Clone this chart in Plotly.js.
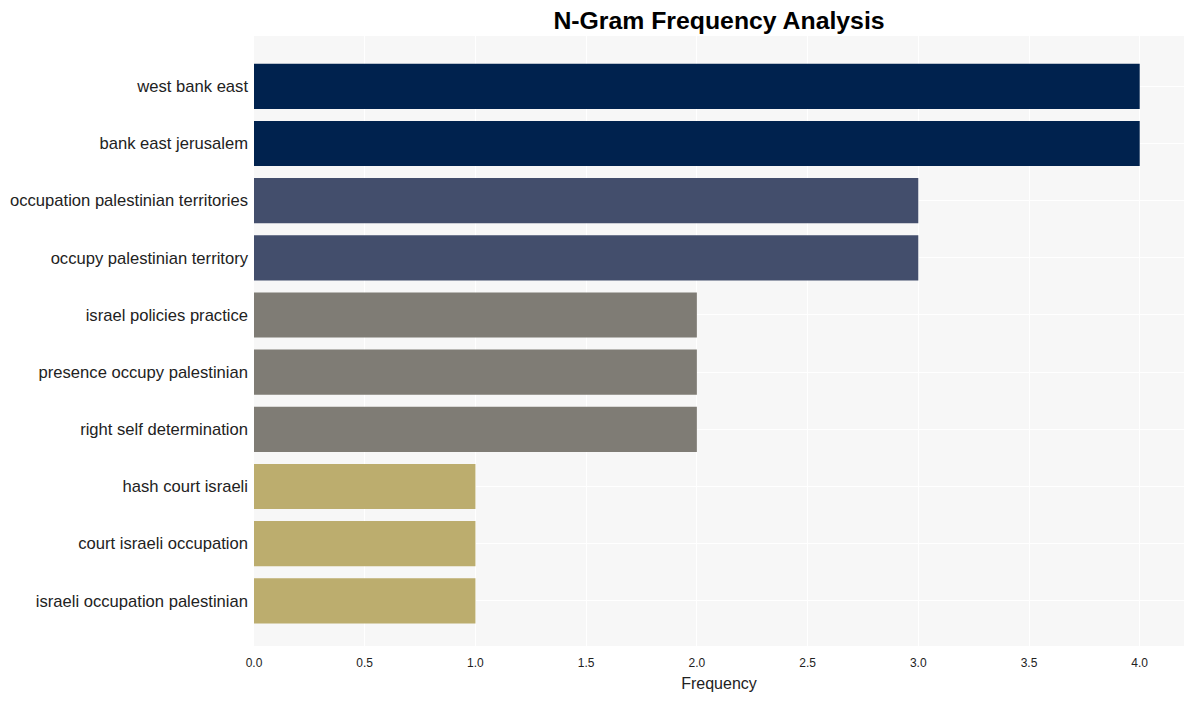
<!DOCTYPE html>
<html>
<head>
<meta charset="utf-8">
<script src="https://cdn.plot.ly/plotly-3.0.1.min.js"></script>
<style>html,body{margin:0;padding:0;background:#fff;}#chart{width:1193px;height:701px;}</style>
</head>
<body>
<div id="chart"></div>
<script>
const categories = [
  "west bank east",
  "bank east jerusalem",
  "occupation palestinian territories",
  "occupy palestinian territory",
  "israel policies practice",
  "presence occupy palestinian",
  "right self determination",
  "hash court israeli",
  "court israeli occupation",
  "israeli occupation palestinian"
];
const frequencies = [4, 4, 3, 3, 2, 2, 2, 1, 1, 1];
const barColors = ["#00224e", "#00224e", "#434e6c", "#434e6c", "#7f7c75", "#7f7c75", "#7f7c75", "#bcad6e", "#bcad6e", "#bcad6e"];
const xTicks = [0, 0.5, 1, 1.5, 2, 2.5, 3, 3.5, 4];
const xTickText = ["0.0", "0.5", "1.0", "1.5", "2.0", "2.5", "3.0", "3.5", "4.0"];

const trace = {
  type: "bar",
  orientation: "h",
  x: frequencies,
  y: categories,
  marker: {color: barColors},
  hoverinfo: "x+y"
};

const layout = {
  width: 1193,
  height: 701,
  margin: {l: 254, r: 9, t: 36, b: 55},
  paper_bgcolor: "#ffffff",
  plot_bgcolor: "#f7f7f7",
  bargap: 0.21,
  font: {family: "Liberation Sans, Arial, sans-serif", color: "#222"},
  title: {
    text: "<b>N-Gram Frequency Analysis</b>",
    x: 0.5, xref: "paper", y: 1 - 20 / 701, yref: "container", yanchor: "middle",
    font: {size: 24.8, color: "#000", family: "Liberation Sans, Arial, sans-serif"}
  },
  xaxis: {
    range: [0, 4.2],
    tickvals: xTicks,
    ticktext: xTickText,
    tickfont: {size: 12, color: "#222"},
    gridcolor: "#ffffff",
    zeroline: false,
    showline: false,
    ticklabelstandoff: 8,
    title: {text: "Frequency", font: {size: 16, color: "#222"}, standoff: 8}
  },
  yaxis: {
    type: "category",
    range: [9.79, -0.88],
    tickfont: {size: 16.6, color: "#222"},
    gridcolor: "#ffffff",
    ticks: "",
    ticklabelstandoff: 5,
    automargin: false
  },
  showlegend: false
};

Plotly.newPlot("chart", [trace], layout, {displayModeBar: false, staticPlot: true});
</script>
</body>
</html>
